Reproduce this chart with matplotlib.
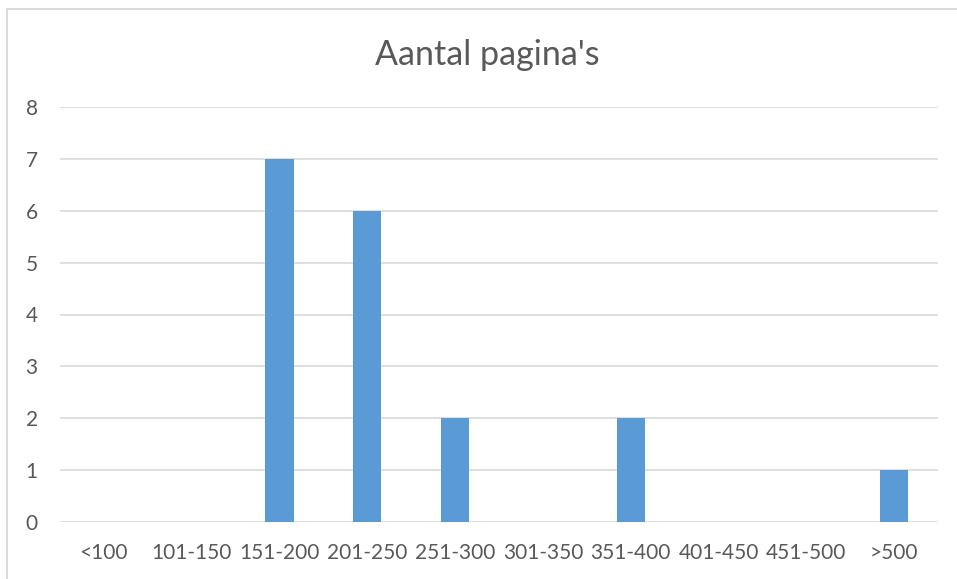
import matplotlib
matplotlib.use("Agg")
import matplotlib.pyplot as plt
from matplotlib.patches import Rectangle

categories = ["<100", "101-150", "151-200", "201-250", "251-300",
              "301-350", "351-400", "401-450", "451-500", ">500"]
values = [0, 0, 7, 6, 2, 0, 2, 0, 0, 1]
yticks = [0, 1, 2, 3, 4, 5, 6, 7, 8]
title = "Aantal pagina's"

W, H = 957, 579
fig = plt.figure(figsize=(W / 100, H / 100), dpi=100)
plt.rcParams['font.family'] = ['Lato', 'DejaVu Sans']

# chart border
fig.patches.append(Rectangle((6.5 / W, -0.1), 1.2, 1 - 8.5 / H + 0.1,
                             transform=fig.transFigure, fill=False,
                             edgecolor="#D9D9D9", linewidth=1.3))

ax = fig.add_axes([60 / W, 1 - 522 / H, (938 - 60) / W, (522 - 107) / H])
x = list(range(len(categories)))
ax.bar(x, values, width=0.32, color="#5B9BD5", zorder=3)
ax.set_xlim(-0.5, len(categories) - 0.5)
ax.set_ylim(0, 8)
ax.set_yticks(yticks)
ax.set_xticks(x)
ax.set_xticklabels(categories)
for s in ax.spines.values():
    s.set_visible(False)
ax.grid(axis="y", color="#D9D9D9", linewidth=1.2, zorder=0)
ax.tick_params(axis="both", length=0, labelsize=15, colors="#595959")
ax.tick_params(axis="y", pad=16)
ax.tick_params(axis="x", pad=15)

fig.text(487 / W, 1 - 55 / H, title, ha="center", va="center",
         fontsize=24.5, color="#595959")

fig.savefig("out.png", dpi=100)
